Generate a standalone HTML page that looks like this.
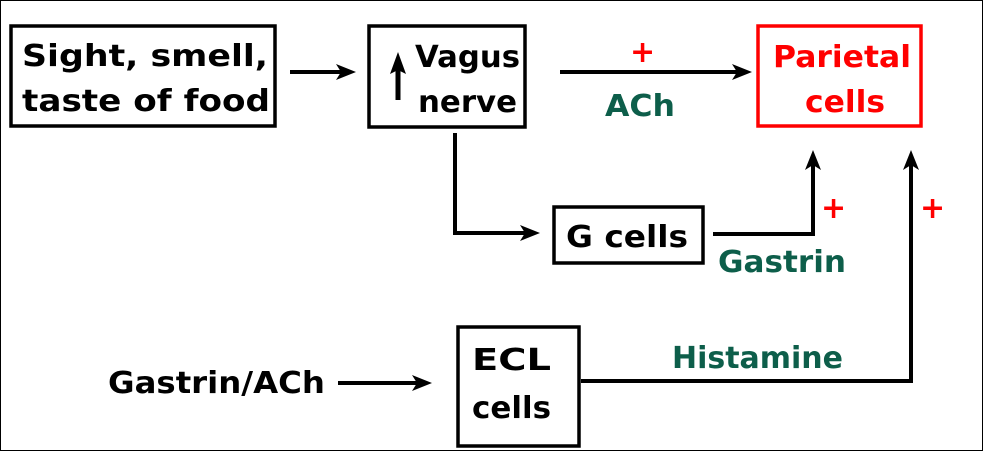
<!DOCTYPE html>
<html><head><style>
html,body{margin:0;padding:0;background:#fff;}
svg{display:block;}
text{font-family:"DejaVu Sans","Liberation Sans",sans-serif;font-weight:bold;}
</style></head><body>
<svg width="984" height="452" viewBox="0 0 984 452" xmlns="http://www.w3.org/2000/svg">
<rect x="0.5" y="0.5" width="982" height="450" fill="#fff" stroke="#000" stroke-width="1"/>
<g fill="none" stroke="#000" stroke-width="3.5">
<rect x="11" y="26" width="264" height="100"/>
<rect x="369" y="26" width="156" height="101"/>
<rect x="554" y="207" width="149" height="56"/>
<rect x="458" y="327" width="121" height="119"/>
</g>
<rect x="758" y="26" width="163" height="100" fill="none" stroke="#f00" stroke-width="3.5"/>
<g stroke="#000" stroke-width="4" fill="none">
<line x1="290" y1="72" x2="345" y2="72"/>
<line x1="560" y1="72" x2="740" y2="72"/>
<polyline points="455,133 455,233 530,233"/>
<polyline points="713,234 813,234 813,160"/>
<polyline points="581,381 911,381 911,160"/>
<line x1="338" y1="383" x2="420" y2="383"/>
<line x1="398" y1="100" x2="398" y2="68" stroke-width="5"/>
</g>
<g fill="#000">
<path d="M356,72 L336,64 L341,72 L336,80 Z"/>
<path d="M752,72 L732,64 L737,72 L732,80 Z"/>
<path d="M540,233 L520,225 L525,233 L520,241 Z"/>
<path d="M432,383 L412,375 L417,383 L412,391 Z"/>
<path d="M813,150 L805,170 L813,165 L821,170 Z"/>
<path d="M911,150 L903,170 L911,165 L919,170 Z"/>
<path d="M398,52 L390,74 L398,70 L406,74 Z"/>
</g>
<g font-size="30" fill="#000" lengthAdjust="spacingAndGlyphs">
<text x="22" y="66" textLength="246" lengthAdjust="spacingAndGlyphs">Sight, smell,</text>
<text x="22" y="111" textLength="248" lengthAdjust="spacingAndGlyphs">taste of food</text>
<text x="415" y="67" textLength="105" lengthAdjust="spacingAndGlyphs">Vagus</text>
<text x="418" y="112" textLength="99" lengthAdjust="spacingAndGlyphs">nerve</text>
<text x="566" y="247" textLength="122" lengthAdjust="spacingAndGlyphs">G cells</text>
<text x="472" y="370" textLength="79" lengthAdjust="spacingAndGlyphs">ECL</text>
<text x="472" y="418" textLength="79" lengthAdjust="spacingAndGlyphs">cells</text>
<text x="108" y="393" textLength="217" lengthAdjust="spacingAndGlyphs">Gastrin/ACh</text>
</g>
<g font-size="30" fill="#f00">
<text x="773" y="67" textLength="138" lengthAdjust="spacingAndGlyphs">Parietal</text>
<text x="805" y="112" textLength="80" lengthAdjust="spacingAndGlyphs">cells</text>
<text x="630" y="62">+</text>
<text x="821" y="218">+</text>
<text x="920" y="218">+</text>
</g>
<g font-size="30" fill="#0d5e4a">
<text x="605" y="116" textLength="70" lengthAdjust="spacingAndGlyphs">ACh</text>
<text x="718" y="272" textLength="128" lengthAdjust="spacingAndGlyphs">Gastrin</text>
<text x="672" y="368" textLength="171" lengthAdjust="spacingAndGlyphs">Histamine</text>
</g>
</svg>
</body></html>
